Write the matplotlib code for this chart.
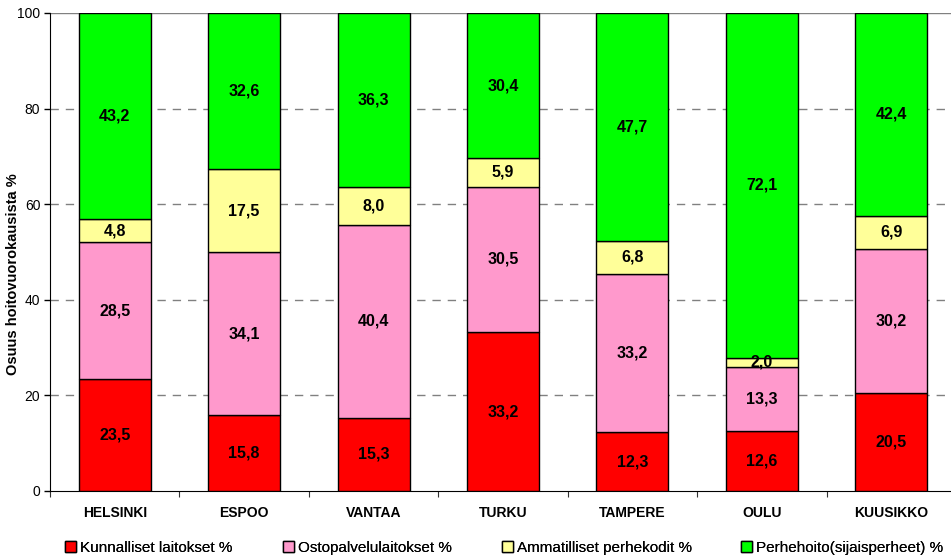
import matplotlib
matplotlib.use('Agg')
import matplotlib.pyplot as plt
import numpy as np

plt.rcParams['font.family'] = ['Liberation Sans', 'DejaVu Sans']

cities = ['HELSINKI', 'ESPOO', 'VANTAA', 'TURKU', 'TAMPERE', 'OULU', 'KUUSIKKO']
kunnalliset = [23.5, 15.8, 15.3, 33.2, 12.3, 12.6, 20.5]
ostopalvelu = [28.5, 34.1, 40.4, 30.5, 33.2, 13.3, 30.2]
ammatilliset = [4.8, 17.5, 8.0, 5.9, 6.8, 2.0, 6.9]
perhehoito = [43.2, 32.6, 36.3, 30.4, 47.7, 72.1, 42.4]

series = [
    ('Kunnalliset laitokset %', kunnalliset, '#FF0000'),
    ('Ostopalvelulaitokset %', ostopalvelu, '#FF99CC'),
    ('Ammatilliset perhekodit %', ammatilliset, '#FFFF99'),
    ('Perhehoito(sijaisperheet) %', perhehoito, '#00FF00'),
]

W, H = 951, 558
fig = plt.figure(figsize=(W / 100, H / 100), dpi=100)
# axes spans slightly beyond the right edge like the original
ax = fig.add_axes([50 / W, (H - 491) / H, 906 / W, 478 / H])

x = np.arange(len(cities))
bottom = np.zeros(len(cities))
handles = []
for name, vals, color in series:
    vals = np.array(vals)
    b = ax.bar(x, vals, 0.556, bottom=bottom, color=color, edgecolor='black',
               linewidth=1.0, label=name, zorder=3)
    handles.append(b)
    for xi, v, b0 in zip(x, vals, bottom):
        ax.text(xi, b0 + v / 2, f'{v:.1f}'.replace('.', ','), ha='center', va='center',
                fontsize=11.5, fontweight='bold', zorder=4)
    bottom += vals

ax.set_xlim(-0.5, len(cities) - 0.5)
ax.set_ylim(0, 100)
ax.set_yticks([0, 20, 40, 60, 80, 100])
ax.tick_params(axis='y', labelsize=10, length=4, direction='out', width=1, pad=3)
for yv in [20, 40, 60, 80]:
    ax.axhline(yv, color='#808080', lw=1.0, ls=(0, (6, 5)), zorder=1)
ax.axhline(100, color='#808080', lw=1.0, zorder=1)

ax.set_xticks(np.arange(-0.5, len(cities), 1.0))
ax.set_xticklabels([])
ax.tick_params(axis='x', length=4, direction='out', color='#333333')
for xi, c in zip(x, cities):
    ax.text(xi, -4.7, c, ha='center', va='center', fontsize=10, fontweight='bold')

for s in ['top', 'right']:
    ax.spines[s].set_visible(False)
ax.spines['left'].set_color('black')
ax.spines['bottom'].set_color('black')

fig.text(13 / W, 1 - 274 / H, 'Osuus hoitovuorokausista %', rotation=90,
         ha='center', va='center', fontsize=10.5, fontweight='bold')

# legend entries placed one by one, like the original's spacing
leg_x = [65, 283, 502, 741]
for h, (name, _, _), lx in zip(handles, series, leg_x):
    lg = fig.legend(handles=[h], labels=[name], loc='center left',
                    bbox_to_anchor=(lx / W, 1 - 548 / H), frameon=False, fontsize=11,
                    handlelength=0.75, handleheight=0.75, handletextpad=0.25,
                    borderpad=0, borderaxespad=0)
    fig.add_artist(lg)

fig.savefig('out.png', dpi=100)
